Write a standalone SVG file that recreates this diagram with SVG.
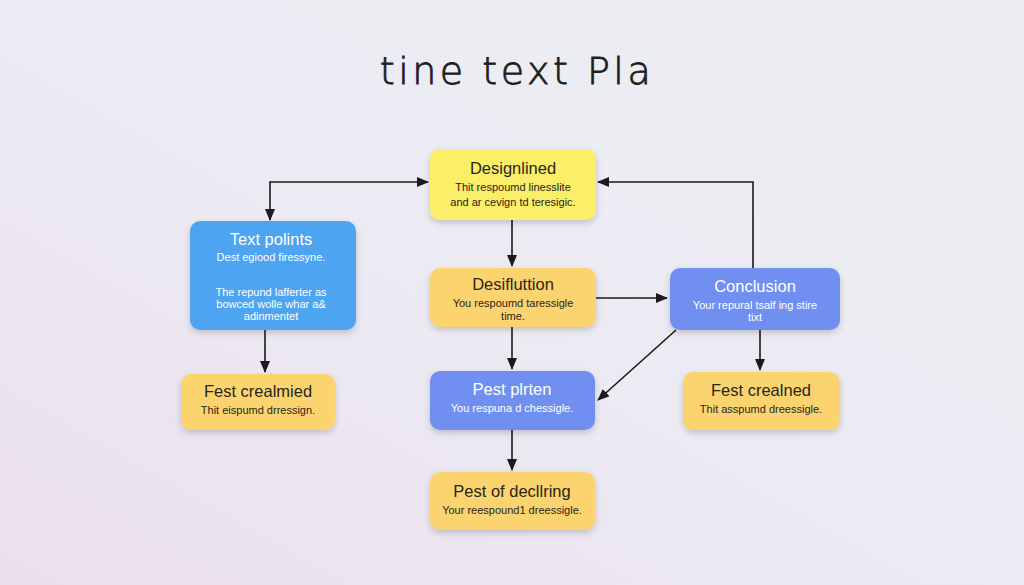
<svg xmlns="http://www.w3.org/2000/svg" width="1024" height="585" viewBox="0 0 1024 585">
<defs>
<linearGradient id="bg" x1="0" y1="1" x2="1" y2="0">
<stop offset="0" stop-color="#ebdfee"/>
<stop offset="0.5" stop-color="#ecebf3"/>
<stop offset="1" stop-color="#eceef4"/>
</linearGradient>
<filter id="sh" x="-20%" y="-20%" width="140%" height="150%">
<feDropShadow dx="0" dy="3" stdDeviation="3" flood-color="#000" flood-opacity="0.18"/>
</filter>
<marker id="arr" viewBox="0 0 12 10" refX="11" refY="5" markerWidth="12" markerHeight="10" orient="auto-start-reverse" markerUnits="userSpaceOnUse">
<path d="M0,0 L12,5 L0,10 z" fill="#1a1a1a"/>
</marker>
</defs>
<style>
.box{filter:url(#sh);}
.t{font-family:"Liberation Sans",Arial,sans-serif;text-anchor:middle;}
.h{font-size:16.5px;}
.s{font-size:11px;}
.dk{fill:#2a2418;}
.lt{fill:#ffffff;}
.c{stroke:#1a1a1a;stroke-width:1.6;fill:none;marker-end:url(#arr);}
</style>
<rect width="1024" height="585" fill="url(#bg)"/>
<text x="517" y="84" font-family="'DejaVu Sans',sans-serif" font-size="38" font-weight="300" fill="#1e1e1e" stroke="#1e1e1e" stroke-width="0.8" text-anchor="middle" letter-spacing="3.5">tine text Pla</text>

<g id="connectors">
<path class="c" d="M270,220 L270,182 L428,182" style="marker-start:url(#arr)"/>
<path class="c" d="M753,268 L753,182 L598,182"/>
<path class="c" d="M512,220 L512,266"/>
<path class="c" d="M596,298 L667,298"/>
<path class="c" d="M512,327 L512,369"/>
<path class="c" d="M676,330 L598,400"/>
<path class="c" d="M265,330 L265,372"/>
<path class="c" d="M760,330 L760,370"/>
<path class="c" d="M512,430 L512,470"/>
</g>

<g id="n-designlined">
<rect class="box" x="430" y="149" width="166" height="71" rx="10" fill="#fbee69"/>
<text class="t h dk" x="513" y="174">Designlined</text>
<text class="t s dk" x="513" y="191">Thit respoumd linesslite</text>
<text class="t s dk" x="513" y="206">and ar cevign td teresigic.</text>
</g>

<g id="n-textpoints">
<rect class="box" x="190" y="221" width="166" height="109" rx="10" fill="#4ea4f1"/>
<text class="t h lt" x="271" y="245">Text polints</text>
<text class="t s lt" x="271" y="261">Dest egiood firessyne.</text>
<text class="t s lt" x="271" y="296">The repund lafferter as</text>
<text class="t s lt" x="271" y="308">bowced wolle whar a&amp;</text>
<text class="t s lt" x="271" y="320">adinmentet</text>
</g>

<g id="n-desifluttion">
<rect class="box" x="430" y="268" width="166" height="59" rx="10" fill="#fbd470"/>
<text class="t h dk" x="513" y="290">Desifluttion</text>
<text class="t s dk" x="513" y="307">You respoumd taressigle</text>
<text class="t s dk" x="513" y="320">time.</text>
</g>

<g id="n-conclusion">
<rect class="box" x="670" y="268" width="170" height="62" rx="10" fill="#6f8ff1"/>
<text class="t h lt" x="755" y="292">Conclusion</text>
<text class="t s lt" x="755" y="309">Your repural tsalf ing stire</text>
<text class="t s lt" x="755" y="321">tixt</text>
</g>

<g id="n-fest-left">
<rect class="box" x="181" y="374" width="154" height="56" rx="10" fill="#fbd470"/>
<text class="t h dk" x="258" y="397">Fest crealmied</text>
<text class="t s dk" x="258" y="414">Thit eispumd drressign.</text>
</g>

<g id="n-pest-plrten">
<rect class="box" x="430" y="371" width="165" height="59" rx="10" fill="#6f8ff1"/>
<text class="t h lt" x="512" y="395">Pest plrten</text>
<text class="t s lt" x="512" y="412">You respuna d chessigle.</text>
</g>

<g id="n-fest-right">
<rect class="box" x="683" y="372" width="157" height="58" rx="10" fill="#fbd470"/>
<text class="t h dk" x="761" y="396">Fest crealned</text>
<text class="t s dk" x="761" y="413">Thit asspumd dreessigle.</text>
</g>

<g id="n-pest-decl">
<rect class="box" x="430" y="472" width="165" height="58" rx="10" fill="#fbd470"/>
<text class="t h dk" x="512" y="497">Pest of decllring</text>
<text class="t s dk" x="512" y="514">Your reespound1 dreessigle.</text>
</g>
</svg>
